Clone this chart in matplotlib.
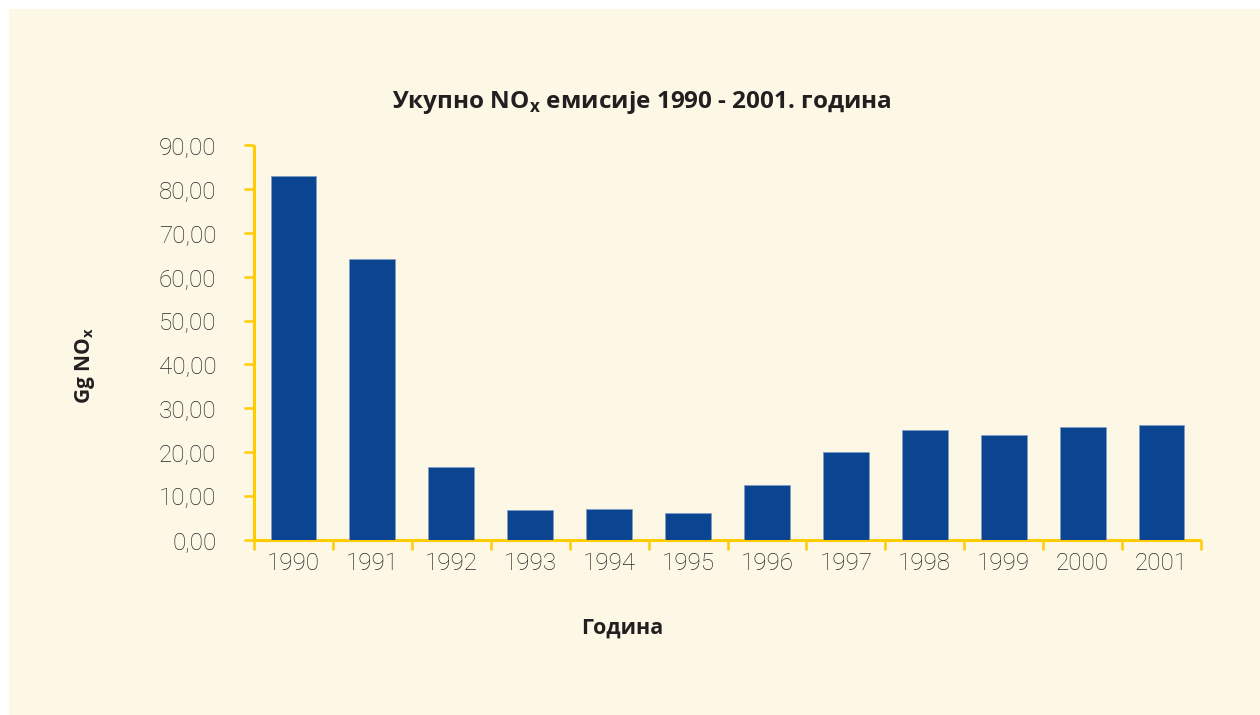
import matplotlib
matplotlib.use("Agg")
import matplotlib.pyplot as plt
from matplotlib.patches import Rectangle
from matplotlib.ticker import FixedLocator, FuncFormatter

years = ["1990", "1991", "1992", "1993", "1994", "1995", "1996", "1997", "1998", "1999", "2000", "2001"]
emissions = [82.9, 64.1, 16.7, 6.8, 7.1, 6.2, 12.5, 20.0, 25.1, 23.9, 25.7, 26.1]
yticks = [0, 10, 20, 30, 40, 50, 60, 70, 80, 90]

title = "Укупно NO$_\\mathregular{x}$ емисије 1990 - 2001. година"
ylabel = "Gg NO$_\\mathregular{x}$"
xlabel = "Година"

cream = "#FDF7E6"
gold = "#FFCC00"
blue = "#0B4592"
dark = "#231F20"
gray = "#262626"

plt.rcParams['font.family'] = ['Roboto', 'DejaVu Sans']

W, H = 1260, 715
fig = plt.figure(figsize=(W / 100, H / 100), dpi=100, facecolor="white")
fig.patches.append(Rectangle((9 / W, 0), 1, 1 - 9 / H, transform=fig.transFigure,
                             facecolor=cream, edgecolor="none", zorder=-10))

ax = fig.add_axes([254 / W, 1 - 540 / H, (1201 - 254) / W, (540 - 145) / H])
ax.set_facecolor("none")

x = list(range(len(years)))
ax.bar(x, emissions, width=0.58, color=blue, edgecolor="#7F9CC4", linewidth=0.6, zorder=3)

ax.set_xlim(-0.5, len(years) - 0.5)
ax.set_ylim(0, 90)

for s in ["top", "right"]:
    ax.spines[s].set_visible(False)
for s in ["left", "bottom"]:
    ax.spines[s].set_color(gold)
    ax.spines[s].set_linewidth(2.2)
    ax.spines[s].set_capstyle("butt")

ax.set_yticks(yticks)
ax.yaxis.set_major_formatter(FuncFormatter(lambda v, p: f"{v:.2f}".replace(".", ",")))
ax.tick_params(axis="y", direction="out", length=7, width=1.8, color=gold,
               labelsize=17.5, labelcolor=gray, pad=20)

ax.xaxis.set_major_locator(FixedLocator([i - 0.5 for i in range(len(years) + 1)]))
ax.xaxis.set_major_formatter(FuncFormatter(lambda v, p: ""))
ax.xaxis.set_minor_locator(FixedLocator(x))
ax.set_xticks(x, years, minor=True)
ax.tick_params(axis="x", which="major", direction="out", length=7, width=1.8, color=gold)
ax.tick_params(axis="x", which="minor", length=0, labelsize=17.5, labelcolor=gray, pad=9)

for lab in ax.get_yticklabels() + ax.get_xticklabels(minor=True):
    lab.set_fontweight("light")

bold_fam = ['Open Sans', 'DejaVu Sans']
fig.text(642 / W, 1 - 102 / H, title, ha="center", va="center", family=bold_fam,
         fontsize=17.5, fontweight="bold", color=dark)
fig.text(85 / W, 1 - 366 / H, ylabel, ha="center", va="center", rotation=90, family=bold_fam,
         fontsize=15, fontweight="bold", color=dark)
fig.text(622 / W, 1 - 628 / H, xlabel, ha="center", va="center", family=bold_fam,
         fontsize=15.5, fontweight="bold", color=dark)

fig.savefig("out.png", dpi=100, facecolor=fig.get_facecolor())
